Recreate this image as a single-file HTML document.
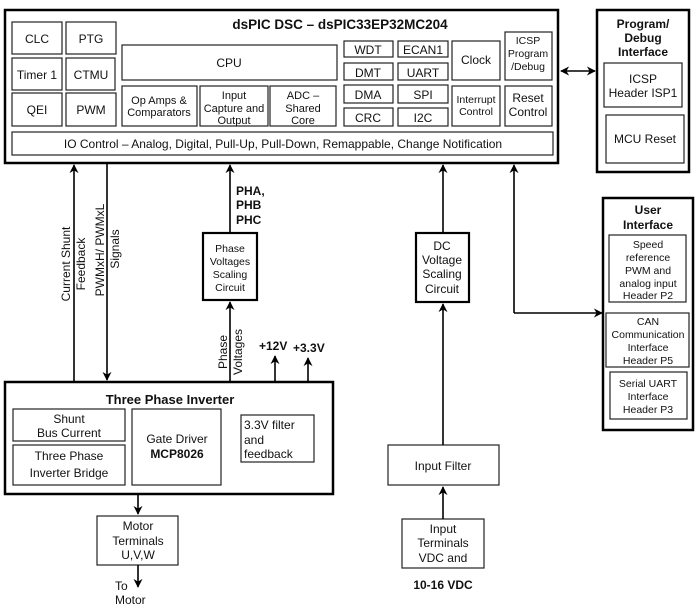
<!DOCTYPE html>
<html><head><meta charset="utf-8"><style>
html,body{margin:0;padding:0;background:#fff;}
svg{display:block;font-family:"Liberation Sans",Arial,sans-serif;}
text{fill:#111;}
</style></head><body>
<svg width="698" height="609" viewBox="0 0 698 609" xmlns="http://www.w3.org/2000/svg">
<defs>
<marker id="ah" viewBox="0 0 10 10" refX="9" refY="5" markerWidth="9" markerHeight="9" orient="auto-start-reverse" markerUnits="userSpaceOnUse">
<path d="M0,0 L10,5 L0,10 L3,5 Z" fill="#000"/>
</marker>
</defs>
<g fill="none" stroke="#222" stroke-width="1.2">
<!-- dsPIC main -->
<rect x="5" y="10" width="553" height="153" stroke="#000" stroke-width="2.5"/>
<rect x="12" y="22" width="50" height="32"/><rect x="66" y="22" width="50" height="32"/>
<rect x="12" y="58" width="50" height="32"/><rect x="66" y="58" width="49" height="32"/>
<rect x="12" y="93" width="50" height="33"/><rect x="66" y="93" width="50" height="33"/>
<rect x="122" y="45" width="215" height="35"/>
<rect x="122" y="86" width="75" height="40"/><rect x="200" y="86" width="68" height="40"/><rect x="270" y="86" width="66" height="40"/>
<rect x="12" y="132" width="541" height="23"/>
<rect x="344" y="41" width="49" height="16"/><rect x="398" y="41" width="50" height="16"/>
<rect x="344" y="63" width="49" height="17"/><rect x="398" y="63" width="50" height="17"/>
<rect x="344" y="85" width="49" height="18"/><rect x="398" y="85" width="50" height="18"/>
<rect x="344" y="108" width="49" height="18"/><rect x="398" y="108" width="50" height="18"/>
<rect x="452" y="41" width="48" height="39"/><rect x="505" y="32" width="47" height="48"/>
<rect x="452" y="86" width="48" height="40"/><rect x="505" y="86" width="47" height="40"/>
<!-- program debug -->
<rect x="597" y="10" width="92" height="162" stroke="#000" stroke-width="2.5"/>
<rect x="604" y="63" width="78" height="44"/><rect x="606" y="115" width="78" height="48"/>
<!-- user interface -->
<rect x="603" y="198" width="90" height="232" stroke="#000" stroke-width="2.5"/>
<rect x="609" y="235" width="77" height="67"/><rect x="606" y="313" width="83" height="54"/><rect x="610" y="372" width="77" height="47"/>
<!-- phase voltage box -->
<rect x="203" y="233" width="54" height="67" stroke="#000" stroke-width="2.2"/>
<!-- DC box -->
<rect x="416" y="233" width="53" height="69" stroke="#000" stroke-width="2.2"/>
<!-- inverter -->
<rect x="5" y="382" width="328" height="112" stroke="#000" stroke-width="2.5"/>
<rect x="13" y="409" width="112" height="32"/><rect x="13" y="445" width="112" height="40"/>
<rect x="132" y="409" width="89" height="76"/><rect x="241" y="415" width="73" height="47"/>
<rect x="97" y="516" width="81" height="49"/>
<rect x="388" y="445" width="111" height="40"/><rect x="402" y="519" width="82" height="49"/>
</g>
<g fill="none" stroke="#000" stroke-width="1.6">
<line x1="74" y1="382" x2="74" y2="165" marker-end="url(#ah)"/>
<line x1="107" y1="163" x2="107" y2="380" marker-end="url(#ah)"/>
<line x1="230" y1="233" x2="230" y2="165" marker-end="url(#ah)"/>
<line x1="230" y1="382" x2="230" y2="302" marker-end="url(#ah)"/>
<line x1="275" y1="382" x2="275" y2="356" marker-end="url(#ah)"/>
<line x1="308" y1="382" x2="308" y2="358" marker-end="url(#ah)"/>
<line x1="138" y1="494" x2="138" y2="514" marker-end="url(#ah)"/>
<line x1="138" y1="565" x2="138" y2="587" marker-end="url(#ah)"/>
<line x1="443" y1="233" x2="443" y2="165" marker-end="url(#ah)"/>
<line x1="443" y1="445" x2="443" y2="304" marker-end="url(#ah)"/>
<line x1="443" y1="519" x2="443" y2="487" marker-end="url(#ah)"/>
<polyline points="514,313 514,165" marker-end="url(#ah)"/>
<polyline points="514,313 602,313" marker-end="url(#ah)"/>
<line x1="561" y1="71" x2="595" y2="71" marker-start="url(#ah)" marker-end="url(#ah)"/>
</g>
<g font-size="12" text-anchor="middle">
<text x="340" y="29" font-weight="bold" font-size="13.5">dsPIC DSC – dsPIC33EP32MC204</text>
<text x="37" y="43">CLC</text><text x="91" y="43">PTG</text>
<text x="37" y="79">Timer 1</text><text x="91" y="79">CTMU</text>
<text x="37" y="114">QEI</text><text x="91" y="114">PWM</text>
<text x="229" y="67">CPU</text>
<text x="159" y="104" font-size="11">Op Amps &amp;</text><text x="159" y="116" font-size="11">Comparators</text>
<text x="234" y="99" font-size="11">Input</text><text x="234" y="112" font-size="11">Capture and</text><text x="234" y="124" font-size="11">Output</text>
<text x="303" y="99" font-size="11">ADC –</text><text x="303" y="112" font-size="11">Shared</text><text x="303" y="124" font-size="11">Core</text>
<text x="283" y="148">IO Control – Analog, Digital, Pull-Up, Pull-Down, Remappable, Change Notification</text>
<text x="368" y="54">WDT</text><text x="423" y="54">ECAN1</text>
<text x="368" y="77">DMT</text><text x="423" y="77">UART</text>
<text x="368" y="99">DMA</text><text x="423" y="99">SPI</text>
<text x="368" y="122">CRC</text><text x="423" y="122">I2C</text>
<text x="476" y="64">Clock</text>
<text x="528" y="44" font-size="10.5">ICSP</text><text x="528" y="57" font-size="10.5">Program</text><text x="528" y="70" font-size="10.5">/Debug</text>
<text x="476" y="103" font-size="10.5">Interrupt</text><text x="476" y="115" font-size="10.5">Control</text>
<text x="528" y="102">Reset</text><text x="528" y="116">Control</text>
<text x="643" y="28" font-weight="bold">Program/</text><text x="643" y="42" font-weight="bold">Debug</text><text x="643" y="56" font-weight="bold">Interface</text>
<text x="643" y="83">ICSP</text><text x="643" y="97">Header ISP1</text>
<text x="645" y="143">MCU Reset</text>
<text x="648" y="214" font-weight="bold">User</text><text x="648" y="229" font-weight="bold">Interface</text>
<g font-size="10.5"><text x="648" y="248">Speed</text><text x="648" y="261">reference</text><text x="648" y="274">PWM and</text><text x="648" y="287">analog input</text><text x="648" y="299">Header P2</text>
<text x="648" y="325">CAN</text><text x="648" y="338">Communication</text><text x="648" y="351">Interface</text><text x="648" y="364">Header P5</text>
<text x="648" y="387">Serial UART</text><text x="648" y="400">Interface</text><text x="648" y="413">Header P3</text>
<text x="230" y="252">Phase</text><text x="230" y="265">Voltages</text><text x="230" y="278">Scaling</text><text x="230" y="291">Circuit</text></g>
<text x="442" y="250">DC</text><text x="442" y="264">Voltage</text><text x="442" y="278">Scaling</text><text x="442" y="293">Circuit</text>
<g font-weight="bold" text-anchor="start"><text x="236" y="195">PHA,</text><text x="236" y="209">PHB</text><text x="236" y="224">PHC</text>
<text x="259" y="350">+12V</text><text x="293" y="352">+3.3V</text></g>
<text x="170" y="404" font-weight="bold" font-size="13">Three Phase Inverter</text>
<text x="69" y="423">Shunt</text><text x="69" y="437">Bus Current</text>
<text x="69" y="460">Three Phase</text><text x="69" y="477">Inverter Bridge</text>
<text x="177" y="443">Gate Driver</text><text x="177" y="458" font-weight="bold">MCP8026</text>
<g text-anchor="start"><text x="244" y="429">3.3V filter</text><text x="244" y="444">and</text><text x="244" y="458">feedback</text>
<text x="115" y="590">To</text><text x="115" y="604">Motor</text></g>
<text x="138" y="530">Motor</text><text x="138" y="545">Terminals</text><text x="138" y="559">U,V,W</text>
<text x="443" y="470">Input Filter</text>
<text x="443" y="533">Input</text><text x="443" y="547">Terminals</text><text x="443" y="562">VDC and</text>
<text x="443" y="589" font-weight="bold">10-16 VDC</text>
<g dominant-baseline="central">
<text transform="translate(66,264) rotate(-90)">Current Shunt</text>
<text transform="translate(81,264) rotate(-90)">Feedback</text>
<text transform="translate(100,250) rotate(-90)">PWMxH/ PWMxL</text>
<text transform="translate(115,249) rotate(-90)">Signals</text>
<text transform="translate(223,352) rotate(-90)">Phase</text>
<text transform="translate(238,352) rotate(-90)">Voltages</text>
</g>
</g>
</svg>
</body></html>
